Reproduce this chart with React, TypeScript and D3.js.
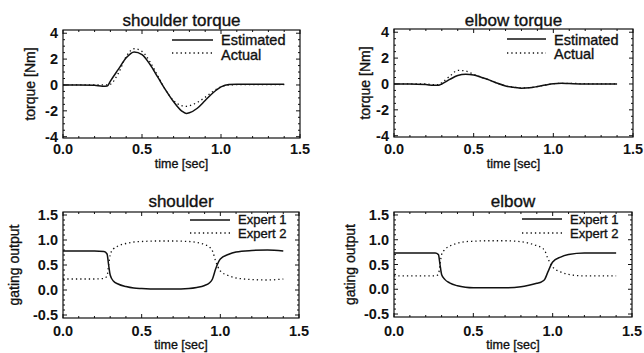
import React from "react";
import * as d3 from "d3";

// ---- data ----
const torqueTimeShoulder = [0, 0.1, 0.2, 0.25, 0.28, 0.3, 0.35, 0.4, 0.45, 0.5, 0.55, 0.6, 0.65, 0.7, 0.75, 0.78, 0.8, 0.85, 0.9, 0.95, 1.0, 1.05, 1.1, 1.2, 1.3, 1.4];
const shoulderEstimated = [0, 0, -0.03, -0.1, -0.08, 0.3, 1.2, 2.1, 2.55, 2.35, 1.6, 0.6, -0.4, -1.3, -2.0, -2.2, -2.15, -1.8, -1.2, -0.6, -0.15, 0.03, 0.05, 0.05, 0.05, 0.05];
const shoulderActual = [0, 0, 0, 0, 0, 0.05, 0.9, 2.2, 2.8, 2.6, 1.8, 0.7, -0.4, -1.2, -1.6, -1.65, -1.6, -1.35, -0.95, -0.5, -0.15, 0, 0.02, 0.02, 0.02, 0.02];

const torqueTimeElbow = [0, 0.1, 0.2, 0.25, 0.28, 0.3, 0.35, 0.4, 0.45, 0.5, 0.55, 0.6, 0.65, 0.7, 0.75, 0.8, 0.85, 0.9, 0.95, 1.0, 1.05, 1.1, 1.2, 1.3, 1.4];
const elbowEstimated = [0, 0, -0.05, -0.1, -0.1, 0, 0.35, 0.65, 0.75, 0.7, 0.5, 0.3, 0.05, -0.15, -0.25, -0.33, -0.3, -0.2, -0.08, 0.02, 0.05, 0.03, 0, 0, 0];
const elbowActual = [0, 0, 0, -0.05, -0.05, 0.1, 0.6, 1.05, 1.0, 0.75, 0.5, 0.3, 0.05, -0.15, -0.25, -0.3, -0.28, -0.2, -0.08, 0.02, 0.05, 0.05, 0.02, 0, 0];

const gatingTime = [0, 0.1, 0.2, 0.26, 0.28, 0.29, 0.3, 0.32, 0.35, 0.4, 0.45, 0.5, 0.6, 0.7, 0.8, 0.85, 0.9, 0.93, 0.95, 0.97, 1.0, 1.05, 1.1, 1.2, 1.3, 1.4];
const shoulderExpert1 = [0.78, 0.78, 0.78, 0.77, 0.72, 0.5, 0.3, 0.18, 0.12, 0.07, 0.04, 0.03, 0.02, 0.02, 0.03, 0.05, 0.09, 0.14, 0.22, 0.42, 0.62, 0.71, 0.76, 0.79, 0.8, 0.78];
const shoulderExpert2 = [0.22, 0.22, 0.22, 0.23, 0.28, 0.5, 0.7, 0.82, 0.88, 0.93, 0.96, 0.97, 0.98, 0.98, 0.97, 0.95, 0.91, 0.86, 0.78, 0.58, 0.38, 0.29, 0.24, 0.21, 0.2, 0.22];
const elbowExpert1 = [0.73, 0.73, 0.73, 0.73, 0.7, 0.5, 0.3, 0.2, 0.13, 0.07, 0.04, 0.03, 0.03, 0.03, 0.05, 0.08, 0.12, 0.15, 0.2, 0.35, 0.55, 0.65, 0.7, 0.73, 0.73, 0.73];
const elbowExpert2 = [0.27, 0.27, 0.27, 0.27, 0.3, 0.5, 0.7, 0.8, 0.87, 0.93, 0.96, 0.97, 0.98, 0.98, 0.96, 0.93, 0.88, 0.84, 0.78, 0.62, 0.45, 0.35, 0.3, 0.27, 0.27, 0.27];

const xTicks = [0, 0.5, 1.0, 1.5];
const torqueTicks = [-4, -2, 0, 2, 4];
const gatingTicks = [-0.5, 0, 0.5, 1.0, 1.5];

const FONT = "'Liberation Sans', Arial, Helvetica, sans-serif";
const INK = "#111";

type Series = { t: number[]; v: number[]; dotted: boolean };
type PanelSpec = {
  title: string;
  yLabel: string;
  x0: number; x1: number; y0: number; y1: number;
  yDomain: [number, number];
  yTicks: number[];
  yMinorStep: number;
  yFmt: (v: number) => string;
  series: Series[];
  legend: string[];
  legendX: number; legendLineW: number; legendY: number[]; legendTextY: number[]; legendFont: number;
  yLabelX: number;
  titleY: number; xTickY: number; xLabelY: number;
};

function Panel({ p }: { p: PanelSpec }) {
  const x = d3.scaleLinear().domain([0, 1.5]).range([p.x0, p.x1]);
  const y = d3.scaleLinear().domain(p.yDomain).range([p.y1, p.y0]);
  const line = d3.line<[number, number]>().x((d) => x(d[0])).y((d) => y(d[1])).curve(d3.curveMonotoneX);
  const xMinor = d3.range(0, 1.5001, 0.1).filter((v) => v <= 1.5);
  const yMinor = d3.range(Math.ceil(p.yDomain[0] / p.yMinorStep) * p.yMinorStep, p.yDomain[1] + 1e-9, p.yMinorStep);
  const ticks: JSX.Element[] = [];
  xMinor.forEach((v, i) => {
    const major = xTicks.some((m) => Math.abs(m - v) < 1e-6);
    const L = major ? 4 : 2;
    ticks.push(<line key={"xb" + i} x1={x(v)} x2={x(v)} y1={p.y1} y2={p.y1 - L} stroke={INK} />);
    ticks.push(<line key={"xt" + i} x1={x(v)} x2={x(v)} y1={p.y0} y2={p.y0 + L} stroke={INK} />);
  });
  yMinor.forEach((v, i) => {
    const major = p.yTicks.some((m) => Math.abs(m - v) < 1e-6);
    const L = major ? 4 : 2;
    ticks.push(<line key={"yl" + i} x1={p.x0} x2={p.x0 + L} y1={y(v)} y2={y(v)} stroke={INK} />);
    ticks.push(<line key={"yr" + i} x1={p.x1} x2={p.x1 - L} y1={y(v)} y2={y(v)} stroke={INK} />);
  });
  const heavy = { stroke: INK, strokeWidth: 0.35 };
  return (
    <g>
      <rect x={p.x0} y={p.y0} width={p.x1 - p.x0} height={p.y1 - p.y0} fill="none" stroke={INK} strokeWidth={1.2} />
      {ticks}
      {p.series.map((s, i) => (
        <path
          key={i}
          d={line(s.t.map((t, j) => [t, s.v[j]] as [number, number])) || ""}
          fill="none"
          stroke={INK}
          strokeWidth={s.dotted ? 1.3 : 1.5}
          strokeDasharray={s.dotted ? "1.3,3" : undefined}
        />
      ))}
      {p.legend.map((lab, i) => (
        <g key={"lg" + i}>
          <line x1={p.legendX} x2={p.legendX + p.legendLineW} y1={p.legendY[i]} y2={p.legendY[i]} stroke={INK}
            strokeWidth={p.series[i].dotted ? 1.3 : 1.5} strokeDasharray={p.series[i].dotted ? "1.3,3" : undefined} />
          <text x={p.legendX + p.legendLineW + 8} y={p.legendTextY[i]} fontSize={p.legendFont} fontFamily={FONT} fill={INK} {...heavy}>{lab}</text>
        </g>
      ))}
      <text x={(p.x0 + p.x1) / 2} y={p.titleY} textAnchor="middle" fontSize={17} fontFamily={FONT} fill={INK} {...heavy}>{p.title}</text>
      {xTicks.map((v) => (
        <text key={"xl" + v} x={x(v)} y={p.xTickY} textAnchor="middle" fontSize={14.5} fontWeight="bold" fontFamily={FONT} fill={INK}>{v.toFixed(1)}</text>
      ))}
      {p.yTicks.map((v) => (
        <text key={"yl" + v} x={p.x0 - 5} y={y(v)} dy="0.36em" textAnchor="end" fontSize={14.5} fontWeight="bold" fontFamily={FONT} fill={INK}>{p.yFmt(v)}</text>
      ))}
      <text x={(p.x0 + p.x1) / 2} y={p.xLabelY} textAnchor="middle" fontSize={12.5} fontFamily={FONT} fill={INK} {...heavy}>time [sec]</text>
      <text transform={`translate(${p.yLabelX},${(p.y0 + p.y1) / 2}) rotate(-90)`} textAnchor="middle" dy="0.35em" fontSize={14} fontFamily={FONT} fill={INK} {...heavy}>{p.yLabel}</text>
    </g>
  );
}

const torqueFmt = (v: number) => d3.format("d")(v).replace("−", "-");
const gatingFmt = (v: number) => v.toFixed(1);

export default function App() {
  const panels: PanelSpec[] = [
    {
      title: "shoulder torque", yLabel: "torque [Nm]",
      x0: 63, x1: 300, y0: 30, y1: 138, yDomain: [-4.1, 4.25], yTicks: torqueTicks, yMinorStep: 0.5, yFmt: torqueFmt,
      series: [
        { t: torqueTimeShoulder, v: shoulderEstimated, dotted: false },
        { t: torqueTimeShoulder, v: shoulderActual, dotted: true },
      ],
      legend: ["Estimated", "Actual"], legendX: 172, legendLineW: 41, legendY: [40, 53], legendTextY: [45, 59.5], legendFont: 14.5,
      yLabelX: 30, titleY: 26, xTickY: 154, xLabelY: 168,
    },
    {
      title: "elbow torque", yLabel: "torque [Nm]",
      x0: 394, x1: 633, y0: 29, y1: 137, yDomain: [-4.1, 4.25], yTicks: torqueTicks, yMinorStep: 0.5, yFmt: torqueFmt,
      series: [
        { t: torqueTimeElbow, v: elbowEstimated, dotted: false },
        { t: torqueTimeElbow, v: elbowActual, dotted: true },
      ],
      legend: ["Estimated", "Actual"], legendX: 507, legendLineW: 39, legendY: [39, 53], legendTextY: [44.5, 59], legendFont: 14.5,
      yLabelX: 365, titleY: 26, xTickY: 154, xLabelY: 168,
    },
    {
      title: "shoulder", yLabel: "gating output",
      x0: 63, x1: 299, y0: 212, y1: 318, yDomain: [-0.56, 1.56], yTicks: gatingTicks, yMinorStep: 0.1, yFmt: gatingFmt,
      series: [
        { t: gatingTime, v: shoulderExpert1, dotted: false },
        { t: gatingTime, v: shoulderExpert2, dotted: true },
      ],
      legend: ["Expert 1", "Expert 2"], legendX: 190, legendLineW: 40, legendY: [220, 233], legendTextY: [224, 238], legendFont: 13,
      yLabelX: 14, titleY: 207, xTickY: 336, xLabelY: 349,
    },
    {
      title: "elbow", yLabel: "gating output",
      x0: 394, x1: 632, y0: 212, y1: 317, yDomain: [-0.56, 1.56], yTicks: gatingTicks, yMinorStep: 0.1, yFmt: gatingFmt,
      series: [
        { t: gatingTime, v: elbowExpert1, dotted: false },
        { t: gatingTime, v: elbowExpert2, dotted: true },
      ],
      legend: ["Expert 1", "Expert 2"], legendX: 522, legendLineW: 40, legendY: [219, 233], legendTextY: [223.5, 237.5], legendFont: 13,
      yLabelX: 350, titleY: 207, xTickY: 336, xLabelY: 349,
    },
  ];
  return (
    <svg width={644} height={353} style={{ position: "absolute", left: 0, top: 0, background: "#fff" }}>
      <rect width={644} height={353} fill="#fff" />
      {panels.map((p, i) => <Panel key={i} p={p} />)}
    </svg>
  );
}
